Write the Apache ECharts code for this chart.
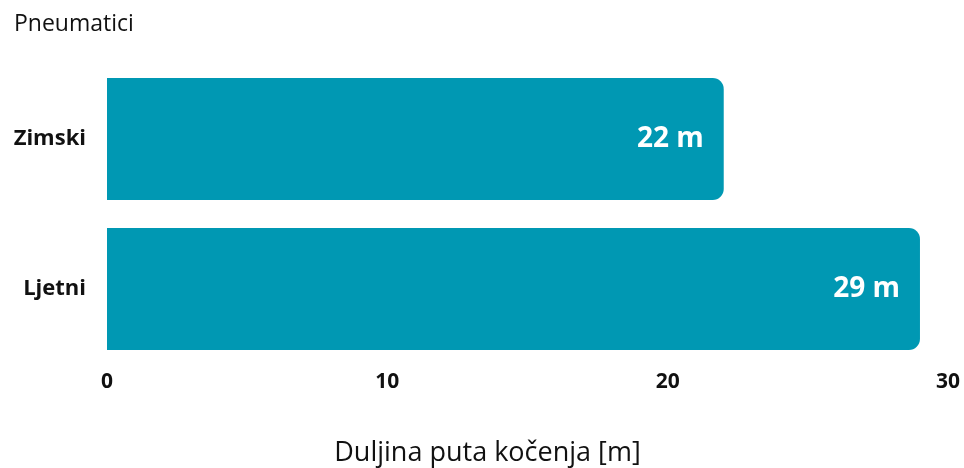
<!DOCTYPE html>
<html>
<head>
    <meta charset="UTF-8">
    <script src="https://cdn.jsdelivr.net/npm/echarts@6/dist/echarts.min.js"></script>
    <style>
        html, body { margin: 0; padding: 0; background: #fff; }
        #main { width: 964px; height: 468px; }
    </style>
</head>
<body>
<div id="main"></div>
<script type="text/javascript">
    var categories = ['Zimski', 'Ljetni'];
    var values = [22, 29];
    var xTicks = [0, 10, 20, 30];

    var myChart = echarts.init(document.getElementById('main'));
    var option = {
        animation: false,
        title: {
            text: 'Pneumatici',
            left: 9,
            top: 8,
            textStyle: {
                fontFamily: 'Open Sans',
                fontWeight: 'normal',
                fontSize: 23,
                color: '#111'
            }
        },
        grid: {
            left: 107,
            right: 16,
            top: 64,
            bottom: 104,
            outerBoundsMode: 'none'
        },
        xAxis: {
            type: 'value',
            min: xTicks[0],
            max: xTicks[xTicks.length - 1],
            interval: 10,
            name: 'Duljina puta kočenja [m]',
            nameLocation: 'middle',
            nameGap: 76,
            nameTextStyle: {
                fontFamily: 'Open Sans',
                fontSize: 27,
                color: '#111',
                padding: [0, 80, 0, 0]
            },
            axisLine: { show: false },
            axisTick: { show: false },
            splitLine: { show: false },
            axisLabel: {
                margin: 8,
                fontFamily: 'Open Sans',
                fontWeight: 'bold',
                fontSize: 21,
                color: '#111'
            }
        },
        yAxis: {
            type: 'category',
            inverse: true,
            data: categories,
            axisLine: { show: false },
            axisTick: { show: false },
            axisLabel: {
                margin: 21,
                fontFamily: 'Open Sans',
                fontWeight: 'bold',
                fontSize: 22,
                color: '#111'
            }
        },
        series: [
            {
                type: 'bar',
                data: values,
                barWidth: 122,
                itemStyle: {
                    color: '#0098b3',
                    borderRadius: [0, 11, 11, 0]
                },
                label: {
                    show: true,
                    position: 'insideRight',
                    distance: 20,
                    formatter: '{c} m',
                    fontFamily: 'Open Sans',
                    fontWeight: 'bold',
                    fontSize: 28,
                    color: '#fff'
                }
            }
        ]
    };
    myChart.setOption(option);
</script>
</body>
</html>
